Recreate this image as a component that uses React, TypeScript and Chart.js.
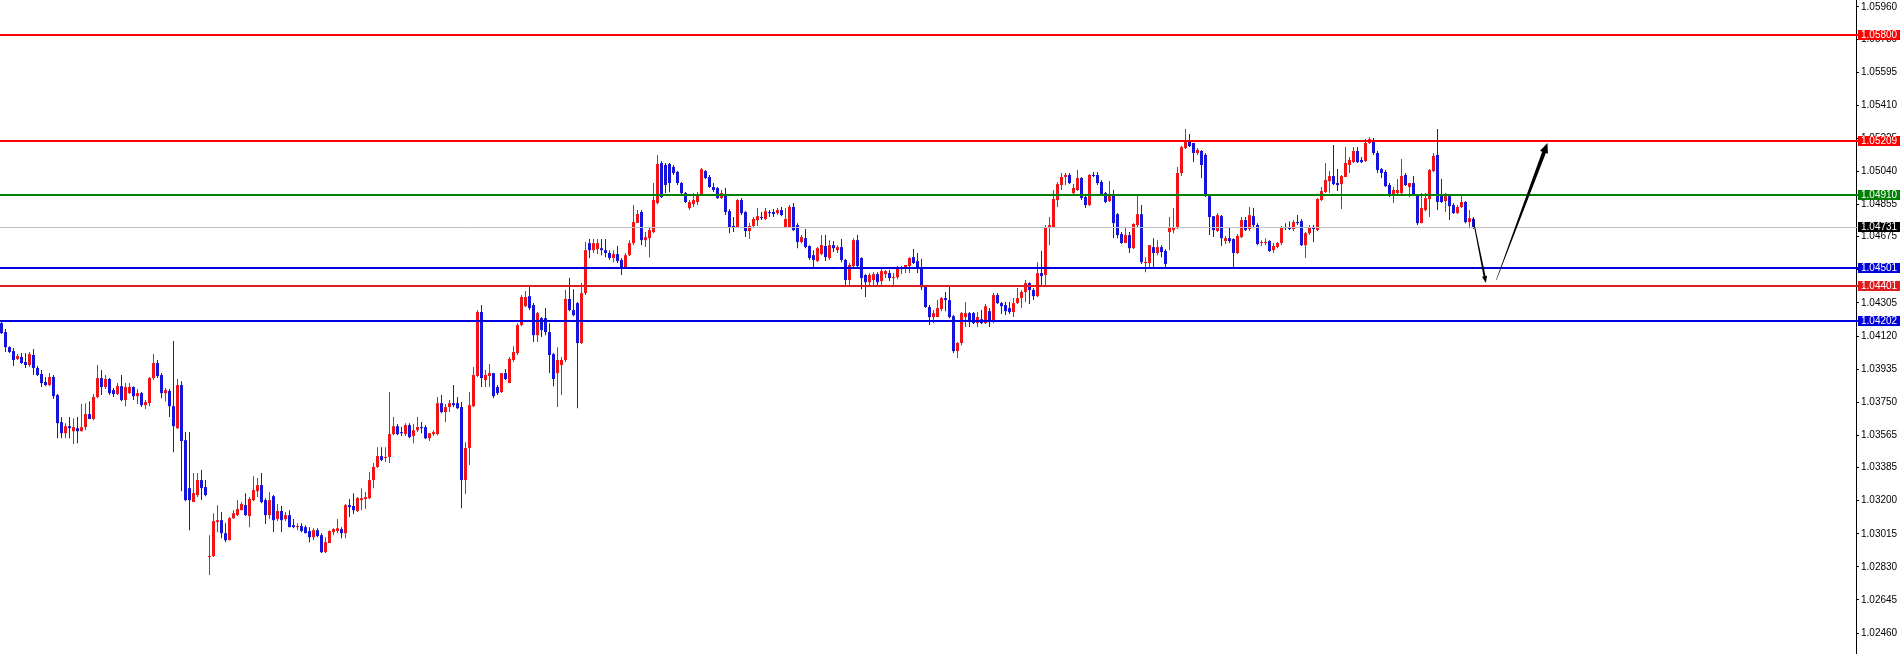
import { useEffect, useRef } from 'react';
import { Chart, registerables } from 'chart.js';

Chart.register(...registerables);

// ---- Candles (EURUSD-like, oldest -> newest) ----
const opens = [
  1.04192,1.04142,1.04058,1.04036,1.03992,1.04003,1.03975,1.03958,1.04014,1.03941,
  1.03908,1.03863,1.03846,1.03891,1.03790,1.03639,1.03577,1.03616,1.03588,1.03605,
  1.03588,1.03611,1.03684,1.03656,1.03779,1.03885,1.03835,1.03880,1.03818,1.03796,
  1.03840,1.03762,1.03801,1.03835,1.03784,1.03801,1.03734,1.03745,1.03885,1.03969,
  1.03902,1.03801,1.03813,1.03728,1.03605,1.03846,1.03538,1.03270,1.03192,1.03231,
  1.03315,1.03276,1.02885,1.02890,1.03080,1.03091,1.03018,1.02979,1.03102,1.03119,
  1.03147,1.03175,1.03114,1.03203,1.03253,1.03287,1.03203,1.03119,1.03225,1.03097,
  1.03142,1.03097,1.03119,1.03063,1.03052,1.03058,1.03052,1.03030,1.02996,1.03035,
  1.03007,1.02912,1.02963,1.03024,1.03030,1.03041,1.03018,1.03175,1.03170,1.03142,
  1.03203,1.03209,1.03214,1.03315,1.03388,1.03449,1.03438,1.03444,1.03572,1.03616,
  1.03583,1.03572,1.03622,1.03561,1.03594,1.03611,1.03611,1.03549,1.03572,1.03572,
  1.03745,1.03695,1.03723,1.03745,1.03745,1.03723,1.03315,1.03494,1.03728,1.03897,
  1.04254,1.03874,1.03897,1.03913,1.03835,1.03807,1.03913,1.03857,1.03986,1.04025,
  1.04181,1.04287,1.04343,1.04293,1.04125,1.04220,1.04220,1.04142,1.04019,1.03913,
  1.03958,1.03986,1.04327,1.04265,1.04304,1.04081,1.04360,1.04639,1.04600,1.04606,
  1.04611,1.04600,1.04584,1.04556,1.04578,1.04545,1.04505,1.04572,1.04639,1.04752,
  1.04813,1.04656,1.04667,1.04701,1.04863,1.05087,1.05076,1.05081,1.05065,1.05037,
  1.04975,1.04919,1.04835,1.04857,1.04869,1.04908,1.05042,1.05009,1.04953,1.04947,
  1.04891,1.04908,1.04818,1.04735,1.04729,1.04880,1.04813,1.04707,1.04735,1.04768,
  1.04785,1.04774,1.04813,1.04813,1.04807,1.04824,1.04729,1.04729,1.04841,1.04740,
  1.04645,1.04667,1.04623,1.04572,1.04539,1.04578,1.04623,1.04556,1.04628,1.04600,
  1.04617,1.04545,1.04433,1.04511,1.04656,1.04556,1.04461,1.04421,1.04433,1.04466,
  1.04427,1.04466,1.04472,1.04444,1.04449,1.04494,1.04505,1.04511,1.04561,1.04539,
  1.04505,1.04399,1.04282,1.04226,1.04226,1.04271,1.04332,1.04321,1.04231,1.04036,
  1.04081,1.04226,1.04248,1.04248,1.04192,1.04214,1.04192,1.04259,1.04209,1.04349,
  1.04304,1.04293,1.04276,1.04254,1.04304,1.04332,1.04366,1.04416,1.04377,1.04343,
  1.04472,1.04461,1.04729,1.04729,1.04880,1.04964,1.05009,1.05020,1.04919,1.04936,
  1.05003,1.04897,1.04852,1.05020,1.05020,1.04981,1.04919,1.04874,1.04908,1.04801,
  1.04690,1.04640,1.04684,1.04611,1.04740,1.04801,1.04528,1.04528,1.04617,1.04584,
  1.04617,1.04595,1.04701,1.04712,1.04723,1.05031,1.05171,1.05210,1.05199,1.05143,
  1.05154,1.05132,1.04902,1.04790,1.04707,1.04790,1.04651,1.04667,1.04662,1.04584,
  1.04673,1.04768,1.04718,1.04790,1.04740,1.04640,1.04640,1.04651,1.04600,1.04617,
  1.04640,1.04729,1.04729,1.04718,1.04757,1.04762,1.04628,1.04695,1.04729,1.04712,
  1.04880,1.04925,1.04986,1.05014,1.04975,1.04969,1.05009,1.05076,1.05092,1.05154,
  1.05104,1.05098,1.05199,1.05210,1.05143,1.05053,1.05037,1.04964,1.04913,1.04919,
  1.04919,1.05020,1.04953,1.04975,1.04908,1.04751,1.04824,1.04886,1.05042,1.05132,
  1.04908,1.04874,1.04902,1.04852,1.04807,1.04841,1.04869,1.04757,1.04774,
];

const highs = [
  1.04198,1.04159,1.04063,1.04053,1.04019,1.04025,1.04025,1.04031,1.04047,1.03952,
  1.03930,1.03891,1.03913,1.03902,1.03796,1.03667,1.03633,1.03667,1.03661,1.03667,
  1.03740,1.03745,1.03756,1.03796,1.03958,1.03930,1.03902,1.03885,1.03829,1.03857,
  1.03902,1.03857,1.03857,1.03840,1.03824,1.03807,1.03762,1.03891,1.04019,1.03986,
  1.03913,1.03829,1.03824,1.04092,1.03880,1.03868,1.03583,1.03583,1.03354,1.03354,
  1.03371,1.03315,1.03007,1.03130,1.03175,1.03136,1.03074,1.03108,1.03147,1.03203,
  1.03192,1.03242,1.03220,1.03337,1.03326,1.03354,1.03214,1.03248,1.03231,1.03181,
  1.03170,1.03136,1.03147,1.03097,1.03074,1.03074,1.03063,1.03052,1.03046,1.03046,
  1.03018,1.02996,1.03035,1.03046,1.03097,1.03052,1.03181,1.03209,1.03242,1.03220,
  1.03270,1.03248,1.03360,1.03410,1.03499,1.03499,1.03499,1.03807,1.03667,1.03628,
  1.03611,1.03633,1.03633,1.03628,1.03667,1.03639,1.03622,1.03577,1.03594,1.03779,
  1.03790,1.03740,1.03762,1.03846,1.03779,1.03751,1.03527,1.03807,1.03947,1.04265,
  1.04293,1.03930,1.03964,1.03913,1.03846,1.03913,1.03936,1.04003,1.04063,1.04192,
  1.04349,1.04371,1.04399,1.04304,1.04254,1.04226,1.04276,1.04192,1.04025,1.04058,
  1.04003,1.04377,1.04444,1.04382,1.04310,1.04416,1.04645,1.04662,1.04662,1.04662,
  1.04662,1.04662,1.04600,1.04600,1.04623,1.04556,1.04584,1.04656,1.04852,1.04824,
  1.04824,1.04701,1.04729,1.04975,1.05132,1.05098,1.05087,1.05087,1.05076,1.05042,
  1.04981,1.04925,1.04880,1.04919,1.04925,1.05059,1.05048,1.05020,1.04975,1.04953,
  1.04936,1.04947,1.04830,1.04785,1.04886,1.04891,1.04818,1.04752,1.04785,1.04835,
  1.04813,1.04835,1.04824,1.04830,1.04835,1.04841,1.04835,1.04852,1.04863,1.04751,
  1.04684,1.04718,1.04628,1.04600,1.04617,1.04684,1.04684,1.04656,1.04651,1.04628,
  1.04662,1.04550,1.04528,1.04667,1.04684,1.04561,1.04466,1.04472,1.04477,1.04477,
  1.04494,1.04489,1.04489,1.04472,1.04511,1.04511,1.04517,1.04561,1.04606,1.04584,
  1.04550,1.04405,1.04293,1.04265,1.04321,1.04338,1.04366,1.04394,1.04237,1.04086,
  1.04254,1.04310,1.04254,1.04254,1.04254,1.04265,1.04299,1.04276,1.04360,1.04360,
  1.04310,1.04310,1.04310,1.04332,1.04388,1.04377,1.04433,1.04421,1.04388,1.04533,
  1.04595,1.04740,1.04785,1.04936,1.04981,1.05031,1.05031,1.05031,1.04969,1.05048,
  1.05009,1.04908,1.05025,1.05037,1.05037,1.04992,1.04925,1.04986,1.04936,1.04807,
  1.04701,1.04729,1.04701,1.04751,1.04902,1.04852,1.04561,1.04628,1.04667,1.04656,
  1.04628,1.04606,1.04785,1.04835,1.05065,1.05182,1.05277,1.05249,1.05199,1.05171,
  1.05160,1.05143,1.04908,1.04790,1.04807,1.04796,1.04679,1.04729,1.04667,1.04690,
  1.04785,1.04785,1.04841,1.04835,1.04751,1.04656,1.04667,1.04656,1.04640,1.04645,
  1.04735,1.04751,1.04762,1.04768,1.04796,1.04774,1.04701,1.04740,1.04740,1.04891,
  1.04953,1.05087,1.05042,1.05188,1.05053,1.05020,1.05176,1.05120,1.05176,1.05176,
  1.05120,1.05221,1.05232,1.05227,1.05154,1.05059,1.05048,1.04975,1.04953,1.04997,
  1.05109,1.05031,1.04975,1.05014,1.04913,1.04919,1.04919,1.05053,1.05143,1.05277,
  1.04997,1.04919,1.04908,1.04863,1.04852,1.04908,1.04874,1.04824,1.04785,
];

const lows = [
  1.04131,1.04031,1.04025,1.03952,1.03986,1.03964,1.03941,1.03947,1.03902,1.03897,
  1.03835,1.03840,1.03840,1.03768,1.03549,1.03549,1.03549,1.03549,1.03516,1.03521,
  1.03588,1.03594,1.03656,1.03650,1.03773,1.03790,1.03824,1.03790,1.03779,1.03790,
  1.03756,1.03728,1.03796,1.03762,1.03740,1.03723,1.03712,1.03728,1.03874,1.03885,
  1.03773,1.03756,1.03667,1.03471,1.03600,1.03253,1.03197,1.03035,1.03192,1.03220,
  1.03203,1.03225,1.02784,1.02885,1.03024,1.02990,1.02968,1.02979,1.03097,1.03114,
  1.03147,1.03114,1.03052,1.03197,1.03220,1.03186,1.03069,1.03097,1.03024,1.03086,
  1.03024,1.03086,1.03052,1.03046,1.03035,1.03024,1.03018,1.02968,1.02979,1.02996,
  1.02907,1.02907,1.02963,1.03007,1.03018,1.02990,1.02990,1.03108,1.03125,1.03136,
  1.03147,1.03153,1.03209,1.03270,1.03382,1.03421,1.03416,1.03410,1.03566,1.03566,
  1.03561,1.03561,1.03549,1.03521,1.03583,1.03577,1.03544,1.03533,1.03561,1.03566,
  1.03689,1.03639,1.03695,1.03723,1.03712,1.03158,1.03237,1.03399,1.03723,1.03891,
  1.03835,1.03835,1.03835,1.03773,1.03790,1.03801,1.03874,1.03857,1.03975,1.04014,
  1.04175,1.04282,1.04265,1.04086,1.04086,1.04114,1.04125,1.03913,1.03840,1.03723,
  1.03790,1.03975,1.04259,1.04231,1.03717,1.04075,1.04349,1.04556,1.04584,1.04578,
  1.04572,1.04561,1.04545,1.04533,1.04528,1.04461,1.04505,1.04567,1.04628,1.04752,
  1.04628,1.04617,1.04561,1.04695,1.04857,1.04891,1.04919,1.04924,1.05020,1.04964,
  1.04913,1.04863,1.04824,1.04841,1.04852,1.04902,1.04997,1.04947,1.04925,1.04886,
  1.04886,1.04796,1.04695,1.04701,1.04723,1.04796,1.04673,1.04662,1.04729,1.04735,
  1.04768,1.04768,1.04785,1.04785,1.04796,1.04790,1.04729,1.04729,1.04707,1.04611,
  1.04639,1.04611,1.04545,1.04505,1.04533,1.04572,1.04539,1.04545,1.04589,1.04584,
  1.04533,1.04405,1.04405,1.04505,1.04505,1.04382,1.04338,1.04399,1.04399,1.04405,
  1.04399,1.04444,1.04427,1.04399,1.04438,1.04466,1.04472,1.04472,1.04522,1.04472,
  1.04377,1.04276,1.04181,1.04192,1.04226,1.04259,1.04259,1.04220,1.04025,1.03997,
  1.04069,1.04170,1.04170,1.04187,1.04170,1.04187,1.04187,1.04170,1.04192,1.04299,
  1.04243,1.04237,1.04243,1.04226,1.04299,1.04276,1.04310,1.04299,1.04321,1.04338,
  1.04405,1.04399,1.04628,1.04729,1.04841,1.04936,1.04964,1.04969,1.04908,1.04930,
  1.04880,1.04835,1.04846,1.05009,1.04964,1.04902,1.04863,1.04869,1.04667,1.04667,
  1.04634,1.04640,1.04584,1.04606,1.04729,1.04522,1.04477,1.04505,1.04505,1.04572,
  1.04561,1.04505,1.04600,1.04695,1.04718,1.05014,1.05165,1.05176,1.05092,1.05132,
  1.05003,1.04897,1.04684,1.04673,1.04701,1.04623,1.04634,1.04640,1.04505,1.04578,
  1.04667,1.04707,1.04707,1.04729,1.04628,1.04623,1.04628,1.04589,1.04584,1.04611,
  1.04628,1.04712,1.04712,1.04707,1.04740,1.04623,1.04556,1.04684,1.04645,1.04707,
  1.04874,1.04919,1.04919,1.04964,1.04930,1.04830,1.05009,1.05031,1.05087,1.05087,
  1.05087,1.05092,1.05193,1.05132,1.05031,1.05003,1.04953,1.04897,1.04863,1.04913,
  1.04913,1.04958,1.04897,1.04902,1.04740,1.04751,1.04818,1.04785,1.05037,1.04824,
  1.04863,1.04813,1.04768,1.04802,1.04802,1.04835,1.04751,1.04723,1.04718,
];

const closes = [
  1.04136,1.04058,1.04031,1.03986,1.04008,1.03969,1.03958,1.04019,1.03941,1.03902,
  1.03857,1.03846,1.03891,1.03784,1.03633,1.03577,1.03616,1.03605,1.03611,1.03588,
  1.03611,1.03684,1.03656,1.03779,1.03885,1.03835,1.03880,1.03801,1.03796,1.03840,
  1.03762,1.03835,1.03835,1.03784,1.03801,1.03734,1.03751,1.03885,1.03969,1.03897,
  1.03801,1.03818,1.03728,1.03616,1.03846,1.03533,1.03203,1.03203,1.03242,1.03315,
  1.03270,1.03231,1.02890,1.03086,1.03091,1.03018,1.02979,1.03102,1.03130,1.03153,
  1.03181,1.03119,1.03209,1.03259,1.03287,1.03192,1.03119,1.03203,1.03091,1.03142,
  1.03091,1.03119,1.03052,1.03052,1.03058,1.03030,1.03018,1.02996,1.03035,1.03002,
  1.02912,1.02968,1.03030,1.03041,1.03046,1.03018,1.03175,1.03164,1.03147,1.03214,
  1.03214,1.03220,1.03315,1.03388,1.03449,1.03427,1.03444,1.03572,1.03616,1.03572,
  1.03577,1.03622,1.03555,1.03594,1.03611,1.03605,1.03549,1.03577,1.03583,1.03745,
  1.03695,1.03723,1.03745,1.03734,1.03717,1.03315,1.03494,1.03734,1.03902,1.04254,
  1.03885,1.03902,1.03913,1.03784,1.03801,1.03913,1.03880,1.03992,1.04031,1.04181,
  1.04338,1.04338,1.04276,1.04125,1.04248,1.04153,1.04142,1.04014,1.03880,1.03986,
  1.03986,1.04327,1.04265,1.04237,1.04081,1.04360,1.04600,1.04600,1.04639,1.04639,
  1.04600,1.04584,1.04556,1.04578,1.04539,1.04505,1.04572,1.04639,1.04757,1.04802,
  1.04656,1.04673,1.04712,1.04880,1.05081,1.04897,1.04964,1.04975,1.05031,1.04975,
  1.04919,1.04869,1.04869,1.04880,1.04908,1.05053,1.05003,1.04953,1.04936,1.04891,
  1.04919,1.04813,1.04729,1.04729,1.04880,1.04807,1.04707,1.04735,1.04774,1.04790,
  1.04779,1.04818,1.04807,1.04802,1.04824,1.04796,1.04774,1.04841,1.04712,1.04645,
  1.04673,1.04617,1.04556,1.04545,1.04611,1.04628,1.04561,1.04628,1.04611,1.04617,
  1.04545,1.04433,1.04517,1.04656,1.04511,1.04444,1.04421,1.04461,1.04466,1.04421,
  1.04483,1.04483,1.04444,1.04449,1.04505,1.04505,1.04517,1.04556,1.04528,1.04505,
  1.04393,1.04282,1.04226,1.04248,1.04276,1.04332,1.04321,1.04226,1.04036,1.04081,
  1.04248,1.04248,1.04198,1.04192,1.04226,1.04192,1.04287,1.04203,1.04349,1.04304,
  1.04287,1.04259,1.04254,1.04304,1.04332,1.04366,1.04416,1.04377,1.04343,1.04472,
  1.04455,1.04729,1.04740,1.04886,1.04969,1.05009,1.05020,1.04975,1.04947,1.05003,
  1.04891,1.04852,1.05020,1.05014,1.04975,1.04913,1.04869,1.04902,1.04751,1.04684,
  1.04640,1.04684,1.04611,1.04746,1.04801,1.04533,1.04533,1.04628,1.04584,1.04617,
  1.04589,1.04522,1.04729,1.04729,1.05031,1.05176,1.05215,1.05182,1.05143,1.05160,
  1.05076,1.04902,1.04785,1.04712,1.04796,1.04667,1.04667,1.04651,1.04584,1.04679,
  1.04768,1.04712,1.04796,1.04740,1.04634,1.04645,1.04645,1.04595,1.04623,1.04640,
  1.04729,1.04723,1.04718,1.04757,1.04751,1.04628,1.04695,1.04729,1.04718,1.04886,
  1.04930,1.04992,1.05014,1.04969,1.04964,1.05014,1.05087,1.05104,1.05154,1.05092,
  1.05092,1.05199,1.05221,1.05143,1.05048,1.05031,1.04958,1.04908,1.04936,1.04936,
  1.05014,1.04964,1.04975,1.04908,1.04751,1.04835,1.04891,1.05048,1.05126,1.04869,
  1.04869,1.04902,1.04846,1.04807,1.04841,1.04869,1.04757,1.04779,1.04729,
];

// ---- Axis ticks (price scale on the right) ----
const tickValues = [
  1.05960, 1.05780, 1.05595, 1.05410, 1.05225, 1.05040, 1.04855, 1.04675, 1.04490, 1.04305,
  1.04120, 1.03935, 1.03750, 1.03565, 1.03385, 1.03200, 1.03015, 1.02830, 1.02645, 1.02460,
];

// ---- Horizontal levels ----
const levelValues = [1.05800, 1.05209, 1.04910, 1.04501, 1.04401, 1.04202];
const levelColors = ['#ff0000', '#ff0000', '#008000', '#0000dd', '#e01b1b', '#0000dd'];
const bidPrice = 1.04731;

// ---- Projection arrows: [barIndex, price] ----
const arrowDownStart = [367.85, 1.04779];
const arrowDownEnd = [371.1, 1.04416];
const arrowUpStart = [373.7, 1.04433];
const arrowUpEnd = [386.5, 1.05199];

const Y_MIN = 1.02343;
const Y_MAX = 1.05998;
const X_MIN = -0.375;
const X_MAX = 463.625;

const UP = '#f01414';
const DOWN = '#1414dc';

function taperedArrow(ctx: CanvasRenderingContext2D, x0: number, y0: number, x1: number, y1: number,
  w0: number, w1: number, headLen: number, headHalf: number) {
  const dx = x1 - x0, dy = y1 - y0;
  const len = Math.hypot(dx, dy);
  const ux = dx / len, uy = dy / len;
  const nx = -uy, ny = ux;
  const sx = x1 - ux * headLen, sy = y1 - uy * headLen;
  ctx.beginPath();
  ctx.moveTo(x0 + nx * w0, y0 + ny * w0);
  ctx.lineTo(sx + nx * w1, sy + ny * w1);
  ctx.lineTo(sx + nx * headHalf, sy + ny * headHalf);
  ctx.lineTo(x1, y1);
  ctx.lineTo(sx - nx * headHalf, sy - ny * headHalf);
  ctx.lineTo(sx - nx * w1, sy - ny * w1);
  ctx.lineTo(x0 - nx * w0, y0 - ny * w0);
  ctx.closePath();
  ctx.fill();
}

const overlayPlugin = {
  id: 'overlay',
  afterDatasetsDraw(chart: any) {
    const { ctx, chartArea: a, scales } = chart;
    const xs = scales.x, ys = scales.y;
    ctx.save();
    const bp = Math.round(ys.getPixelForValue(bidPrice)) + 0.5;
    ctx.strokeStyle = '#c0c0c0';
    ctx.lineWidth = 1;
    ctx.beginPath();
    ctx.moveTo(a.left, bp);
    ctx.lineTo(a.right + 2, bp);
    ctx.stroke();
    levelValues.forEach((v, i) => {
      const ly = Math.round(ys.getPixelForValue(v));
      ctx.strokeStyle = levelColors[i];
      ctx.lineWidth = 2;
      ctx.beginPath();
      ctx.moveTo(a.left, ly);
      ctx.lineTo(a.right + 2, ly);
      ctx.stroke();
    });
    ctx.fillStyle = '#000';
    taperedArrow(ctx,
      xs.getPixelForValue(arrowDownStart[0]), ys.getPixelForValue(arrowDownStart[1]),
      xs.getPixelForValue(arrowDownEnd[0]), ys.getPixelForValue(arrowDownEnd[1]),
      0.4, 1.0, 7, 2.6);
    taperedArrow(ctx,
      xs.getPixelForValue(arrowUpStart[0]), ys.getPixelForValue(arrowUpStart[1]),
      xs.getPixelForValue(arrowUpEnd[0]), ys.getPixelForValue(arrowUpEnd[1]),
      0.25, 2.0, 10, 4.2);
    ctx.restore();
  },
  afterDraw(chart: any) {
    const { ctx, chartArea: a, scales } = chart;
    const ys = scales.y;
    ctx.save();
    const box = (v: number, color: string) => {
      const cy = Math.round(ys.getPixelForValue(v));
      ctx.fillStyle = color;
      ctx.fillRect(a.right + 2, cy - 5, 42, 10);
      ctx.fillStyle = '#ffffff';
      ctx.font = '10px "Liberation Sans", Arial, sans-serif';
      ctx.textBaseline = 'middle';
      ctx.textAlign = 'left';
      ctx.fillText(v.toFixed(5), a.right + 5, cy + 0.5);
    };
    levelValues.forEach((v, i) => box(v, levelColors[i]));
    box(bidPrice, '#000000');
    ctx.restore();
  },
};

export default function App() {
  const ref = useRef<HTMLCanvasElement | null>(null);
  useEffect(() => {
    if (!ref.current) return;
    const idx = opens.map((_, i) => i);
    const colors = idx.map((i) => (closes[i] >= opens[i] ? UP : DOWN));
    const chart = new Chart(ref.current, {
      type: 'bar',
      data: {
        datasets: [
          {
            label: 'wick',
            data: idx.map((i) => ({ x: i, y: [lows[i], highs[i]] })) as any,
            backgroundColor: colors,
            barThickness: 1,
            grouped: false,
            inflateAmount: 0,
            borderWidth: 0,
          } as any,
          {
            label: 'body',
            data: idx.map((i) => ({ x: i, y: [Math.min(opens[i], closes[i]), Math.max(opens[i], closes[i])] })) as any,
            backgroundColor: colors,
            barThickness: 3,
            grouped: false,
            inflateAmount: 0,
            borderWidth: 0,
            minBarLength: 1,
          } as any,
        ],
      },
      options: {
        responsive: false,
        devicePixelRatio: 1,
        animation: false,
        layout: { padding: 0 },
        plugins: { legend: { display: false }, tooltip: { enabled: false } },
        scales: {
          x: {
            type: 'linear',
            display: false,
            min: X_MIN,
            max: X_MAX,
            offset: false,
            grid: { display: false },
          },
          y: {
            type: 'linear',
            position: 'right',
            min: Y_MIN,
            max: Y_MAX,
            grid: { display: true, drawOnChartArea: false, drawTicks: true, tickLength: 3, color: '#000' },
            border: { display: true, color: '#000', width: 1 },
            ticks: {
              autoSkip: false,
              padding: 2,
              color: '#000',
              font: { family: '"Liberation Sans", Arial, sans-serif', size: 10 },
              callback: (v: any) => Number(v).toFixed(5),
            },
            afterBuildTicks: (scale: any) => {
              scale.ticks = tickValues.map((v) => ({ value: v }));
            },
            afterFit: (scale: any) => {
              scale.width = 47;
              scale.paddingTop = 0;
              scale.paddingBottom = 0;
            },
          },
        },
      } as any,
      plugins: [overlayPlugin],
    });
    return () => chart.destroy();
  }, []);
  return (
    <div style={{ position: 'absolute', left: 0, top: 0, width: 1903, height: 654, background: '#fff' }}>
      <canvas ref={ref} width={1903} height={654} />
    </div>
  );
}
